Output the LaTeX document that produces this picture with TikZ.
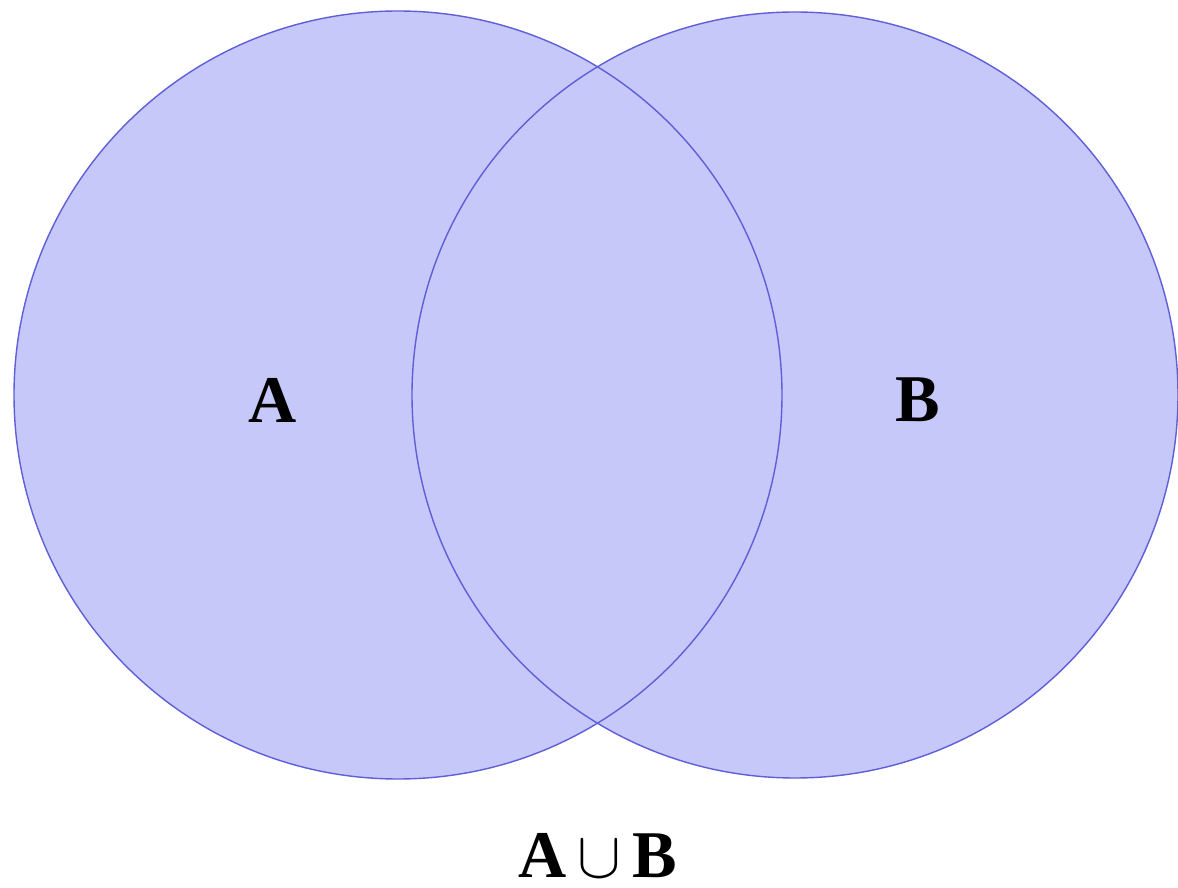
\documentclass[tikz,border=0pt]{standalone}
\usepackage{fontspec}
\usepackage{graphicx}
\setmainfont{Liberation Serif}[BoldFont={Liberation Serif Bold}]
\begin{document}
\begin{tikzpicture}[x=0.02cm,y=-0.02cm,
  setfill/.style={fill={rgb,255:red,197;green,200;blue,248}},
  setline/.style={draw={rgb,255:red,95;green,95;blue,215},line width=0.8pt},
  setlabel/.style={font=\fontsize{38}{40}\selectfont\bfseries,inner sep=0pt}]
\useasboundingbox (0,0) rectangle (1178,888);
\fill[white] (0,0) rectangle (1178,888);
\coordinate (ca) at (398,395);
\coordinate (cb) at (795,395);
\fill[setfill] (ca) circle[radius=384];
\fill[setfill] (cb) circle[radius=383];
\draw[setline] (ca) circle[radius=384];
\draw[setline] (cb) circle[radius=383];
\node[setlabel] (la) at (273,400) {A};
\node[setlabel] (lb) at (918,400) {B};
\node[setlabel] (lu) at (598,856) {A\,{\mdseries\scalebox{1.5}{$\cup$}}\,B};
\end{tikzpicture}
\end{document}
